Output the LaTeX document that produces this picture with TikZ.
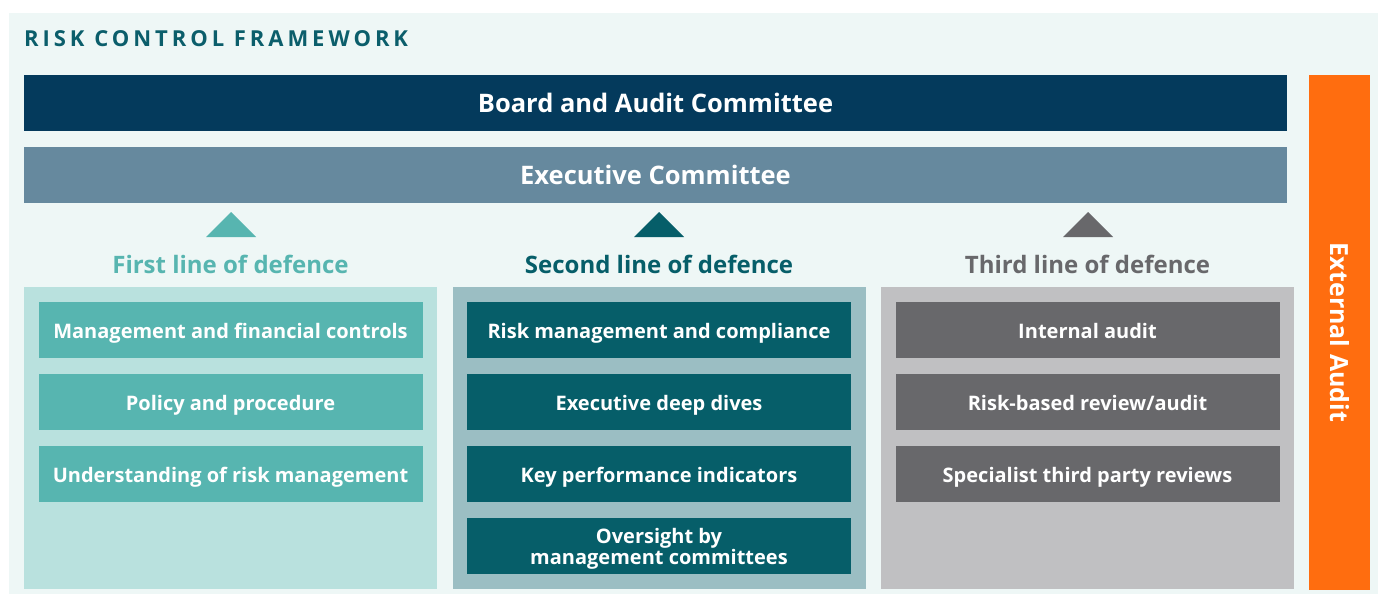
\documentclass[tikz,border=0pt]{standalone}
\usepackage{fontspec}
\IfFontExistsTF{Noto Sans Medium}
  {\setmainfont{Noto Sans}[BoldFont={Noto Sans Medium}]}
  {\setmainfont{Open Sans}}
\definecolor{panel}{HTML}{EEF7F6}
\definecolor{board}{HTML}{043A5C}
\definecolor{exec}{HTML}{66899E}
\definecolor{orange}{HTML}{FF6D0F}
\definecolor{titlecol}{HTML}{0B5E6B}
\definecolor{firstbg}{HTML}{B9E1DE}
\definecolor{firstfg}{HTML}{57B5B0}
\definecolor{secondbg}{HTML}{9BBEC3}
\definecolor{secondfg}{HTML}{065E69}
\definecolor{thirdbg}{HTML}{C0C0C2}
\definecolor{thirdfg}{HTML}{68686B}
\tikzset{
  bar/.style={fill=#1, text=white, minimum width=1263pt, minimum height=56pt, inner sep=0pt, font=\bfseries\fontsize{25.5}{29}\selectfont},
  column/.style={fill=#1, minimum width=413pt, minimum height=302pt, inner sep=0pt},
  item/.style={fill=#1, minimum width=384pt, minimum height=56pt, inner sep=0pt},
  itemtext/.style={text=white, inner sep=0pt, align=center, anchor=base, yshift=-8pt, font=\bfseries\fontsize{20}{21}\selectfont},
  heading/.style={text=#1, font=\bfseries\fontsize{24}{28}\selectfont, inner sep=0pt}
}
\begin{document}
\begin{tikzpicture}[x=1pt, y=-1pt]
  \useasboundingbox (0,0) rectangle (1378,594);
  \fill[panel] (9,13) rectangle (1378,594);
  \node[anchor=base west, text=titlecol, inner sep=0pt, font=\bfseries\fontsize{22}{26}\selectfont\addfontfeatures{LetterSpace=18}] (title) at (24,47) {RISK CONTROL FRAMEWORK};

  \node[bar=board] (board) at (655.5,103) {Board and Audit Committee};
  \node[bar=exec] (exec) at (655.5,175) {Executive Committee};

  \node[fill=orange, minimum width=61pt, minimum height=515pt, inner sep=0pt] (ext) at (1339.5,332.5) {};
  \node[rotate=-90, text=white, font=\bfseries\fontsize{25}{29}\selectfont] (extlabel) at (ext.center) {External Audit};

  % triangles pointing up to the executive committee
  \fill[firstfg] (206,237) -- (231,212) -- (256,237) -- cycle;
  \fill[secondfg] (634,237) -- (659,212) -- (684,237) -- cycle;
  \fill[thirdfg] (1063,237) -- (1088,212) -- (1113,237) -- cycle;

  \node[heading=firstfg] (h1) at (230.5,264) {First line of defence};
  \node[heading=secondfg] (h2) at (659,264) {Second line of defence};
  \node[heading=thirdfg] (h3) at (1087.5,264) {Third line of defence};

  \node[column=firstbg] (c1) at (230.5,437.5) {};
  \node[column=secondbg] (c2) at (659,437.5) {};
  \node[column=thirdbg] (c3) at (1087.5,437.5) {};

  % boxes, each label sitting on a common baseline
  \node[item=firstfg] (a1) at (230.5,330) {};
  \node[itemtext] at (a1) {Management and financial controls};
  \node[item=firstfg] (a2) at (230.5,402) {};
  \node[itemtext] at (a2) {Policy and procedure};
  \node[item=firstfg] (a3) at (230.5,474) {};
  \node[itemtext] at (a3) {Understanding of risk management};

  \node[item=secondfg] (b1) at (659,330) {};
  \node[itemtext] at (b1) {Risk management and compliance};
  \node[item=secondfg] (b2) at (659,402) {};
  \node[itemtext] at (b2) {Executive deep dives};
  \node[item=secondfg] (b3) at (659,474) {};
  \node[itemtext] at (b3) {Key performance indicators};
  \node[item=secondfg] (b4) at (659,545.5) {};
  \node[itemtext, anchor=center, yshift=5pt] at (b4) {Oversight by\\management committees};

  \node[item=thirdfg] (d1) at (1087.5,330) {};
  \node[itemtext] at (d1) {Internal audit};
  \node[item=thirdfg] (d2) at (1087.5,402) {};
  \node[itemtext] at (d2) {Risk-based review/audit};
  \node[item=thirdfg] (d3) at (1087.5,474) {};
  \node[itemtext] at (d3) {Specialist third party reviews};
\end{tikzpicture}
\end{document}
